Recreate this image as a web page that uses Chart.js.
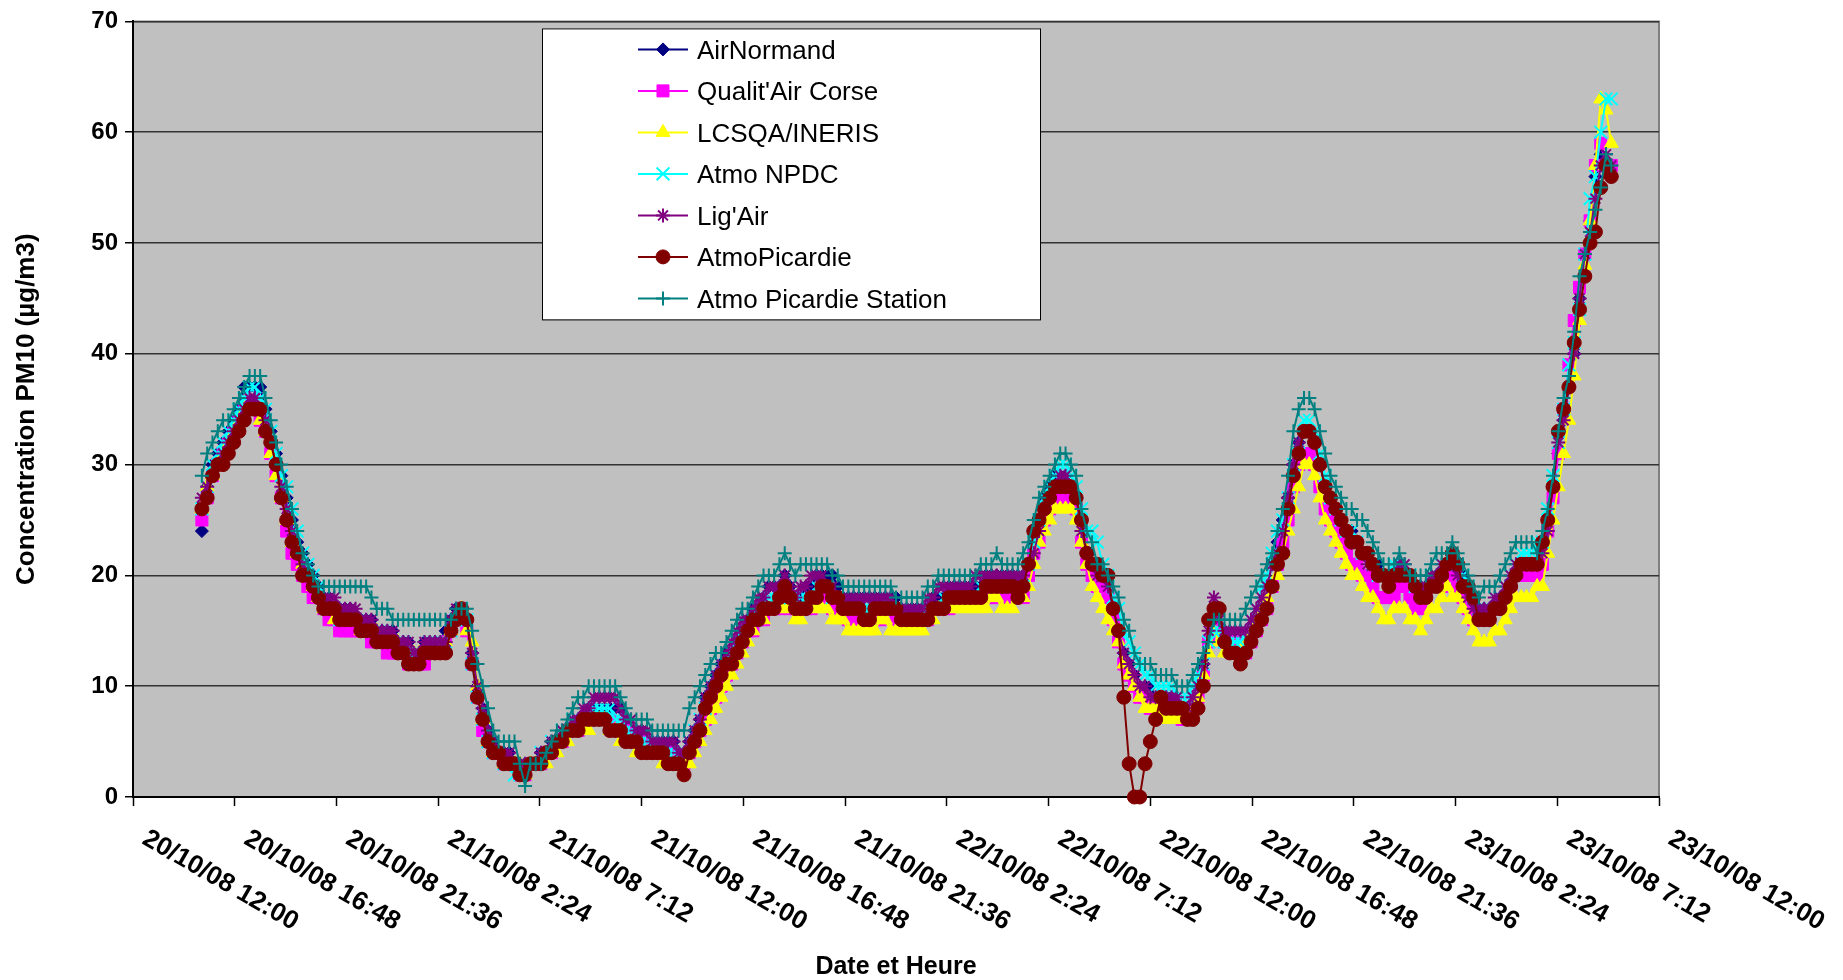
<!DOCTYPE html>
<html lang="fr">
<head>
<meta charset="utf-8">
<title>Concentration PM10</title>
<script src="https://cdn.jsdelivr.net/npm/chart.js@4.4.1/dist/chart.umd.min.js"></script>
<style>
  html, body { margin: 0; padding: 0; background: #ffffff; }
  #wrap { position: relative; width: 1843px; height: 980px; }
</style>
</head>
<body>
<div id="wrap"><canvas id="chart"></canvas></div>
<script>
// Quarter-hourly PM10 readings (µg/m3), from 20/10/08 15:15 to 23/10/08 09:45
const firstReadingHour = 3.25;   // hours after 20/10/08 12:00
const readingStepHours = 0.25;

const seriesNames = ['AirNormand', "Qualit'Air Corse", 'LCSQA/INERIS', 'Atmo NPDC', "Lig'Air", 'AtmoPicardie', 'Atmo Picardie Station'];

const airNormand = [
  24,28,30,31,32,33,34,35,37,37,
  37,37,35,33,31,29,27,25,23,22,
  21,20,19,18,18,17,17,17,17,16,
  16,16,16,15,15,15,15,14,14,14,
  13,13,14,14,14,14,15,16,17,17,
  16,13,10,8,6,5,4,4,4,3,
  3,3,3,3,4,4,5,5,5,6,
  6,7,7,8,8,8,8,8,8,8,
  7,6,6,6,5,5,5,5,5,5,
  4,4,5,6,7,9,10,11,12,13,
  13,14,15,16,17,17,18,19,19,19,
  20,19,18,18,19,19,20,20,20,20,
  19,18,18,18,18,18,18,18,18,18,
  18,18,17,17,17,17,17,17,18,18,
  18,19,19,19,19,19,19,19,20,20,
  20,20,20,20,19,20,21,23,25,27,
  28,29,29,29,28,27,25,22,21,21,
  20,19,17,15,13,12,11,10,10,10,
  9,9,9,9,9,8,8,9,10,12,
  14,16,15,15,14,14,14,14,15,16,
  17,19,21,23,25,27,30,32,33,33,
  32,30,28,27,26,25,24,24,23,22,
  22,21,21,20,20,20,21,20,20,19,
  19,19,19,20,20,21,21,21,20,19,
  18,17,17,17,17,18,18,19,20,21,
  21,21,21,22,24,28,31,34,37,40,
  45,49,52,56,58,57,56
];

const qualitAirCorse = [
  25,27,29,30,31,32,33,34,35,35,
  35,34,33,31,29,27,24,22,21,20,
  19,18,18,17,16,16,15,15,15,15,
  15,15,14,14,14,13,13,13,13,12,
  12,12,12,13,13,13,14,15,16,17,
  15,12,9,6,5,4,4,3,3,3,
  2,2,3,3,3,4,4,5,5,6,
  6,6,7,7,7,7,7,7,6,6,
  6,5,5,5,4,4,4,4,4,3,
  3,3,4,5,6,7,8,9,10,11,
  12,13,14,15,15,16,16,17,17,17,
  18,17,17,17,17,17,18,18,18,17,
  17,17,16,16,16,16,16,16,16,17,
  17,16,16,16,16,16,16,16,17,17,
  17,17,18,18,18,18,18,18,18,18,
  18,18,18,18,18,18,20,22,23,25,
  26,27,27,27,27,26,23,21,20,19,
  19,18,16,14,12,11,10,9,9,8,
  8,8,8,8,8,7,7,8,9,11,
  14,16,15,14,14,14,13,13,14,15,
  16,17,19,21,23,25,28,30,31,31,
  30,28,26,25,24,23,22,21,21,20,
  20,19,18,18,18,18,19,19,18,17,
  17,18,19,19,19,20,20,19,18,17,
  16,16,16,16,17,17,18,19,20,20,
  20,20,20,21,24,27,31,35,39,43,
  46,49,52,57,59,57,57
];

const lcsqaIneris = [
  26,28,29,30,31,32,33,34,35,35,
  35,34,33,31,29,27,25,23,22,21,
  20,19,18,17,17,16,16,16,16,16,
  15,15,15,15,14,14,14,14,13,13,
  13,13,13,13,13,13,14,15,16,17,
  15,14,10,7,5,4,4,3,3,3,
  3,2,3,3,3,3,4,4,5,5,
  6,6,6,6,7,7,7,6,6,5,
  5,5,4,4,4,4,4,3,3,3,
  3,3,3,4,5,6,7,8,9,10,
  11,12,13,14,15,16,16,17,17,17,
  17,17,16,16,17,17,17,17,17,16,
  16,16,15,15,15,15,15,15,16,16,
  15,15,15,15,15,15,15,16,16,17,
  17,17,17,17,17,17,17,17,17,18,
  18,17,17,17,18,18,19,21,23,24,
  25,26,26,26,26,25,23,21,19,18,
  17,16,15,14,12,11,10,9,8,8,
  8,7,7,7,7,7,7,8,9,11,
  13,15,14,13,13,13,13,14,15,16,
  17,18,19,20,22,24,26,28,30,30,
  29,27,25,24,23,22,21,20,20,19,
  18,18,17,16,16,17,17,17,16,16,
  15,16,17,17,18,19,18,18,17,16,
  15,14,14,14,15,15,16,17,18,18,
  18,18,19,19,22,25,28,31,34,38,
  43,48,52,57,63,62,59
];

const atmoNpdc = [
  26,28,30,31,32,33,34,35,36,37,
  37,36,35,33,31,29,28,26,24,22,
  21,20,19,18,17,17,16,16,16,16,
  16,15,15,15,15,14,14,14,14,13,
  13,13,13,14,14,14,14,15,16,17,
  16,12,9,7,5,4,4,3,3,2,
  2,3,3,3,4,4,5,5,6,6,
  7,7,7,8,8,8,8,8,7,7,
  6,6,5,5,5,5,5,5,4,4,
  4,4,5,6,7,8,10,11,12,12,
  13,14,15,16,16,17,17,18,18,18,
  19,18,18,18,18,18,19,19,19,18,
  18,18,17,17,17,17,17,17,17,18,
  17,17,17,16,16,16,16,17,17,17,
  18,18,18,18,18,18,18,19,19,19,
  19,19,19,19,19,20,21,23,25,27,
  28,29,30,30,29,28,26,24,24,23,
  21,20,18,17,15,14,13,12,11,11,
  10,10,10,10,9,9,9,10,11,12,
  14,15,15,14,14,14,14,15,16,17,
  19,20,22,24,25,27,30,32,34,34,
  33,31,29,27,26,25,24,24,23,22,
  22,21,20,20,20,21,21,20,20,19,
  19,19,20,20,21,21,21,21,20,19,
  18,17,17,17,18,18,19,20,21,22,
  22,22,23,23,26,29,32,35,39,41,
  44,49,54,56,60,63,63
];

const ligAir = [
  27,28,29,30,31,32,33,34,35,36,
  36,35,34,32,30,28,26,24,22,21,
  20,19,18,18,18,18,17,17,17,17,
  16,16,16,15,15,15,15,14,14,14,
  13,13,14,14,14,14,14,16,17,17,
  16,13,10,8,6,5,4,4,4,3,
  3,3,3,3,4,4,5,5,6,6,
  7,7,8,8,9,9,9,9,9,8,
  7,7,6,6,6,5,5,5,5,5,
  4,4,5,6,7,9,10,11,12,13,
  14,15,16,16,17,18,18,19,19,19,
  20,19,18,19,19,20,20,20,19,19,
  18,18,18,18,18,18,18,18,18,18,
  18,17,17,17,17,17,17,18,18,19,
  19,19,19,19,19,19,20,20,20,20,
  20,20,20,20,20,20,21,22,24,26,
  27,28,29,29,28,27,24,22,21,20,
  20,19,17,15,13,12,11,10,10,9,
  9,9,9,9,9,8,8,9,10,12,
  15,18,16,15,15,15,15,15,16,17,
  18,19,21,22,24,27,30,32,33,33,
  32,30,28,27,26,25,24,23,23,22,
  21,21,20,20,20,20,21,21,20,19,
  19,19,20,20,21,21,21,20,19,18,
  17,17,17,17,18,18,19,20,21,21,
  21,21,21,22,24,28,32,34,37,40,
  45,49,51,54,57,58,57
];

const atmoPicardie = [
  26,27,29,30,30,31,32,33,34,35,
  35,35,33,32,30,27,25,23,22,20,
  20,19,18,17,17,17,16,16,16,16,
  15,15,15,14,14,14,14,13,13,12,
  12,12,13,13,13,13,13,15,16,17,
  16,12,9,7,5,4,4,3,3,3,
  2,2,3,3,3,4,4,5,5,6,
  6,6,7,7,7,7,7,6,6,6,
  5,5,5,4,4,4,4,4,3,3,
  3,2,4,5,6,8,9,10,11,12,
  12,13,14,15,16,16,17,17,17,18,
  19,18,17,17,17,18,18,19,19,18,
  18,17,17,17,17,16,16,17,17,17,
  17,17,16,16,16,16,16,16,17,17,
  17,18,18,18,18,18,18,18,19,19,
  19,19,19,19,18,19,21,24,25,26,
  27,28,28,28,28,27,25,22,21,21,
  20,20,17,15,9,3,0,0,3,5,
  7,9,8,8,8,8,7,7,8,10,
  16,17,17,14,13,13,12,13,14,15,
  16,17,19,21,22,26,29,31,33,33,
  32,30,28,27,26,25,24,23,23,22,
  22,21,20,20,19,20,20,20,20,19,
  18,18,19,19,20,21,22,21,19,19,
  18,16,16,16,17,17,18,19,20,21,
  21,21,21,23,25,28,33,35,37,41,
  44,47,50,51,55,57,56
];

const atmoPicardieStation = [
  29,31,32,33,34,34,35,36,37,38,
  38,38,36,34,32,30,28,26,24,22,
  21,20,19,19,19,19,19,19,19,19,
  19,19,18,17,17,17,16,16,16,16,
  16,16,16,16,16,16,16,16,17,17,
  17,15,12,10,8,6,5,5,5,5,
  3,1,3,3,3,4,5,6,6,7,
  8,9,9,10,10,10,10,10,10,9,
  8,7,7,7,7,6,6,6,6,6,
  6,6,8,9,10,11,12,13,13,14,
  15,16,17,17,18,19,20,20,20,21,
  22,21,20,21,21,21,21,21,21,20,
  20,19,19,19,19,19,19,19,19,19,
  19,18,18,18,18,18,18,19,19,20,
  20,20,20,20,20,20,20,21,21,21,
  22,21,21,21,21,22,23,25,27,28,
  29,30,31,31,30,29,26,24,23,21,
  21,20,19,18,16,15,13,12,12,12,
  11,11,11,11,10,10,10,11,12,13,
  14,16,16,16,16,16,16,17,18,19,
  20,21,22,24,26,29,33,35,36,36,
  35,33,31,29,28,27,26,26,25,25,
  24,23,22,21,21,21,22,21,20,20,
  20,20,21,22,22,22,23,22,21,20,
  19,18,19,19,19,20,21,22,23,23,
  23,23,22,24,26,29,33,36,38,42,
  47,49,51,53,55,58,57
];

const seriesValues = [airNormand, qualitAirCorse, lcsqaIneris, atmoNpdc, ligAir, atmoPicardie, atmoPicardieStation];

// Axis ticks every 4.8 h (0.2 day) from 20/10/08 12:00 to 23/10/08 12:00
const tickLabels = [
  '20/10/08 12:00', '20/10/08 16:48', '20/10/08 21:36',
  '21/10/08 2:24', '21/10/08 7:12', '21/10/08 12:00', '21/10/08 16:48', '21/10/08 21:36',
  '22/10/08 2:24', '22/10/08 7:12', '22/10/08 12:00', '22/10/08 16:48', '22/10/08 21:36',
  '23/10/08 2:24', '23/10/08 7:12', '23/10/08 12:00'
];
const axisSpanHours = 72;
const tickStepHours = 4.8;

const yTitle = 'Concentration PM10 (µg/m3)';
const xTitle = 'Date et Heure';

// Marker look of each station
const seriesStyles = [
  { color: '#000080', pointStyle: 'rectRot',  radius: 6.5, borderWidth: 1 },
  { color: '#FF00FF', pointStyle: 'rect',     radius: 8.5, borderWidth: 1 },
  { color: '#FFFF00', pointStyle: 'triangle', radius: 8,   borderWidth: 1 },
  { color: '#00FFFF', pointStyle: 'crossRot', radius: 9,   borderWidth: 2 },
  { color: '#800080', pointStyle: 'star',     radius: 7,   borderWidth: 2 },
  { color: '#800000', pointStyle: 'circle',   radius: 7,   borderWidth: 1 },
  { color: '#008080', pointStyle: 'cross',    radius: 7,   borderWidth: 2 }
];

const FONT = '"Liberation Sans", Arial, Helvetica, sans-serif';
Chart.defaults.font.family = FONT;

const datasets = seriesValues.map((values, k) => {
  const st = seriesStyles[k];
  return {
    label: seriesNames[k],
    data: values.map((v, i) => ({ x: firstReadingHour + i * readingStepHours, y: v })),
    borderColor: st.color,
    backgroundColor: st.color,
    pointBackgroundColor: st.color,
    pointBorderColor: st.color,
    pointStyle: st.pointStyle,
    pointRadius: st.radius,
    pointBorderWidth: st.borderWidth,
    borderWidth: 2,
    tension: 0,
    clip: false,
    // later stations are painted over earlier ones
    order: seriesValues.length - k
  };
});

const frame = {
  id: 'frame',
  beforeDraw(chart) {
    const { ctx, chartArea: a } = chart;
    ctx.save();
    ctx.fillStyle = '#C0C0C0';
    ctx.fillRect(a.left, a.top, a.right - a.left, a.bottom - a.top);
    ctx.strokeStyle = '#808080';
    ctx.lineWidth = 2;
    ctx.beginPath();
    ctx.moveTo(a.left, a.top);
    ctx.lineTo(a.right, a.top);
    ctx.lineTo(a.right, a.bottom);
    ctx.stroke();
    ctx.restore();
  },
  afterDraw(chart) {
    const { ctx, chartArea: a } = chart;
    const xs = chart.scales.x;
    ctx.save();
    ctx.fillStyle = '#000';

    // slanted date labels
    ctx.font = 'bold 26px ' + FONT;
    ctx.textAlign = 'left';
    ctx.textBaseline = 'alphabetic';
    xs.ticks.forEach((t, k) => {
      const px = xs.getPixelForValue(t.value);
      ctx.save();
      ctx.translate(px + 8, a.bottom + 46);
      ctx.rotate(Math.PI / 6);
      ctx.fillText(tickLabels[k] || '', 0, 0);
      ctx.restore();
    });

    // axis titles
    ctx.font = 'bold 25px ' + FONT;
    ctx.textAlign = 'center';
    ctx.fillText(xTitle, (a.left + a.right) / 2, 974);
    ctx.save();
    ctx.font = 'bold 26px ' + FONT;
    ctx.translate(34, (a.top + a.bottom) / 2);
    ctx.rotate(-Math.PI / 2);
    ctx.fillText(yTitle, 0, 0);
    ctx.restore();

    // legend box
    const bx = a.left + 409, by = a.top + 7, bw = 498, bh = 291;
    ctx.fillStyle = '#ffffff';
    ctx.fillRect(bx, by, bw, bh);
    ctx.strokeStyle = '#000';
    ctx.lineWidth = 1;
    ctx.strokeRect(bx + 0.5, by + 0.5, bw, bh);
    ctx.font = '26px ' + FONT;
    ctx.textAlign = 'left';
    chart.data.datasets.forEach((ds, k) => {
      const st = seriesStyles[k];
      const cy = by + 21 + k * 41.5;
      ctx.strokeStyle = st.color;
      ctx.fillStyle = st.color;
      ctx.lineWidth = 2;
      ctx.beginPath();
      ctx.moveTo(bx + 96, cy);
      ctx.lineTo(bx + 146, cy);
      ctx.stroke();
      ctx.lineWidth = st.borderWidth;
      Chart.helpers.drawPoint(ctx, { pointStyle: st.pointStyle, radius: st.radius, rotation: 0, borderWidth: st.borderWidth }, bx + 121, cy);
      ctx.fillStyle = '#000';
      ctx.fillText(ds.label, bx + 155, cy + 9.3);
    });
    ctx.restore();
  }
};

new Chart(document.getElementById('chart'), {
  type: 'line',
  data: { datasets },
  options: {
    responsive: true,
    maintainAspectRatio: false,
    animation: false,
    events: [],
    layout: { padding: { left: 0, top: 17, right: 184, bottom: 0 } },
    plugins: { legend: { display: false }, tooltip: { enabled: false } },
    scales: {
      x: {
        type: 'linear',
        min: 0,
        max: axisSpanHours,
        afterFit(s) { s.height = 183; },
        ticks: { stepSize: tickStepHours, display: false, autoSkip: false },
        grid: { drawOnChartArea: false, drawTicks: true, tickLength: 9, tickColor: '#000', tickWidth: 1.5 },
        border: { display: true, color: '#000', width: 2 }
      },
      y: {
        min: 0,
        max: 70,
        afterFit(s) { s.width = 133; },
        ticks: { stepSize: 10, color: '#000', padding: 7, font: { size: 24, weight: 'bold' } },
        grid: { color: '#333333', lineWidth: 1.5, drawTicks: true, tickLength: 8, tickColor: '#000', tickWidth: 1.5 },
        border: { display: true, color: '#000', width: 2 }
      }
    }
  },
  plugins: [frame]
});
</script>
</body>
</html>
